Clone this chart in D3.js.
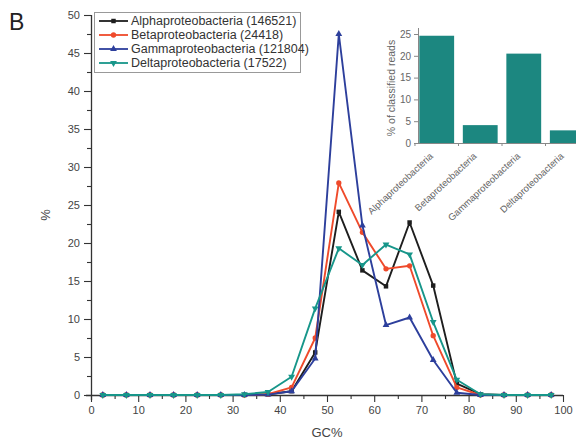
<!DOCTYPE html>
<html>
<head>
<meta charset="utf-8">
<script src="https://cdn.jsdelivr.net/npm/d3@7"></script>
<style>
	body { margin: 0; background: #fff; }
	svg { font-family: "Liberation Sans", Arial, sans-serif; }
</style>
</head>
<body>
<svg id="vis" width="576" height="445"></svg>
<script>
// GC content bins (centres) and percent of reads per class
const gcBins = [2.5, 7.5, 12.5, 17.5, 22.5, 27.5, 32.5, 37.5, 42.5, 47.5, 52.5, 57.5, 62.5, 67.5, 72.5, 77.5, 82.5, 87.5, 92.5, 97.5];
const alphaVals = [0, 0, 0, 0, 0, 0, 0, 0.1, 0.5, 5.6, 24.1, 16.4, 14.3, 22.7, 14.4, 1.5, 0.1, 0, 0, 0];
const betaVals  = [0, 0, 0, 0, 0, 0, 0, 0.1, 1.0, 7.5, 27.9, 21.4, 16.6, 17.0, 7.8, 1.0, 0, 0, 0, 0];
const gammaVals = [0, 0, 0, 0, 0, 0, 0, 0.05, 0.5, 4.8, 47.5, 22.3, 9.2, 10.2, 4.6, 0.3, 0, 0, 0, 0];
const deltaVals = [0, 0, 0, 0, 0, 0, 0.1, 0.4, 2.4, 11.4, 19.3, 17.1, 19.8, 18.5, 9.6, 2.0, 0.1, 0, 0, 0];

const seriesNames = ["Alphaproteobacteria (146521)", "Betaproteobacteria (24418)", "Gammaproteobacteria (121804)", "Deltaproteobacteria (17522)"];
const xTicks = [0, 10, 20, 30, 40, 50, 60, 70, 80, 90, 100];
const yTicks = [0, 5, 10, 15, 20, 25, 30, 35, 40, 45, 50];

// inset: share of classified reads
const insetClasses = ["Alphaproteobacteria", "Betaproteobacteria", "Gammaproteobacteria", "Deltaproteobacteria"];
const insetVals = [24.6, 4.1, 20.5, 2.9];
const insetTicks = [0, 5, 10, 15, 20, 25];

const svg = d3.select("svg#vis");

const x = d3.scaleLinear().domain([0, 100]).range([91, 563]);
const y = d3.scaleLinear().domain([0, 50]).range([395, 15]);

const series = [
	{ name: seriesNames[0], vals: alphaVals, color: "#1e1e1e", symbol: d3.symbolSquare, size: 20, rot: 0 },
	{ name: seriesNames[1], vals: betaVals,  color: "#ef4a2b", symbol: d3.symbolCircle, size: 22, rot: 0 },
	{ name: seriesNames[2], vals: gammaVals, color: "#2d3f9c", symbol: d3.symbolTriangle, size: 20, rot: 0 },
	{ name: seriesNames[3], vals: deltaVals, color: "#17968a", symbol: d3.symbolTriangle, size: 20, rot: 180 }
];

// axes
const axisColor = "#333";
const xAxis = svg.append("g").attr("transform", translate(0, y(0)))
	.call(d3.axisBottom(x).tickValues(xTicks).tickSize(7).tickPadding(4));
svg.append("g").attr("transform", translate(0, y(0)))
	.call(d3.axisBottom(x).tickValues(d3.range(5, 100, 10)).tickSize(4).tickFormat(""))
	.select(".domain").remove();
const yAxis = svg.append("g").attr("transform", translate(x(0), 0))
	.call(d3.axisLeft(y).tickValues(yTicks).tickSize(7).tickPadding(4));
svg.append("g").attr("transform", translate(x(0), 0))
	.call(d3.axisLeft(y).tickValues(d3.range(2.5, 50, 5)).tickSize(4).tickFormat(""))
	.select(".domain").remove();

svg.selectAll(".domain").attr("stroke", axisColor).attr("stroke-width", 1.3);
svg.selectAll(".tick line").attr("stroke", axisColor).attr("stroke-width", 1.1);
svg.selectAll(".tick text").attr("fill", "#444").style("font-size", "11px");
xAxis.select(".domain").attr("d", `M${x(0) - 5},0.5H${x(100)}`);
yAxis.select(".domain").attr("d", `M0.5,${y(0) + 5}V${y(50)}`);

// axis labels
svg.append("text").attr("x", x(50)).attr("y", 437).attr("text-anchor", "middle")
	.attr("fill", "#444").style("font-size", "13px").text("GC%");
svg.append("text").attr("transform", "translate(50,215) rotate(-90)").attr("text-anchor", "middle")
	.attr("fill", "#444").style("font-size", "13px").text("%");
svg.append("text").attr("x", 9).attr("y", 30).attr("fill", "#222").style("font-size", "23px").text("B");

// lines + markers
const line = d3.line().x((d, i) => x(gcBins[i])).y(d => y(d));
series.forEach(function(s) {
	const g = svg.append("g");
	g.append("path").datum(s.vals).attr("d", line)
		.attr("fill", "none").attr("stroke", s.color).attr("stroke-width", 1.9).attr("stroke-linejoin", "round");
	g.selectAll("path.pt").data(s.vals).enter().append("path").attr("class", "pt")
		.attr("d", d3.symbol().type(s.symbol).size(s.size))
		.attr("transform", (d, i) => translate(x(gcBins[i]), y(d)) + ` rotate(${s.rot})`)
		.attr("fill", s.color);
});

// legend
const legend = svg.append("g");
legend.append("rect").attr("x", 94.5).attr("y", 12.5).attr("width", 206).attr("height", 60)
	.attr("fill", "#fff").attr("stroke", "#999").attr("stroke-width", 1);
series.forEach(function(s, i) {
	const ly = 21 + i * 14;
	legend.append("line").attr("x1", 99).attr("x2", 128).attr("y1", ly).attr("y2", ly)
		.attr("stroke", s.color).attr("stroke-width", 1.8);
	legend.append("path").attr("d", d3.symbol().type(s.symbol).size(s.size)())
		.attr("transform", translate(113.5, ly) + ` rotate(${s.rot})`).attr("fill", s.color);
	legend.append("text").attr("x", 131).attr("y", ly + 4.3).attr("fill", "#333")
		.style("font-size", "12.5px").text(s.name);
});

// inset bar chart
const ix = d3.scaleBand().domain(insetClasses).range([418, 586]).paddingInner(0.2).paddingOuter(0.03);
const iy = d3.scaleLinear().domain([0, 25]).range([143, 34]);
const inset = svg.append("g");
inset.selectAll("rect").data(insetVals).enter().append("rect")
	.attr("x", (d, i) => ix(insetClasses[i]))
	.attr("y", d => iy(d))
	.attr("width", ix.bandwidth())
	.attr("height", d => iy(0) - iy(d))
	.attr("fill", "#1c8780");

const iyAxis = inset.append("g").attr("transform", translate(418, 0))
	.call(d3.axisLeft(iy).tickValues(insetTicks).tickSize(4).tickPadding(3));
iyAxis.select(".domain").attr("d", "M0.5,143V28");
const ixAxis = inset.append("g").attr("transform", translate(0, 143))
	.call(d3.axisBottom(ix).tickSize(3).tickPadding(4));
ixAxis.select(".domain").attr("d", "M418,0.5H576");
// ticks sit between the bars
ixAxis.selectAll(".tick line").attr("transform", `translate(${-ix.step() / 2},0)`);
inset.selectAll(".domain").attr("stroke", "#888").attr("stroke-width", 1);
inset.selectAll(".tick line").attr("stroke", "#888");
iyAxis.selectAll(".tick text").attr("fill", "#666").style("font-size", "10px");
ixAxis.selectAll(".tick text")
	.attr("fill", "#666").style("font-size", "9.5px")
	.attr("text-anchor", "end")
	.attr("x", 0).attr("y", 0).attr("dy", 0)
	.attr("transform", "translate(-3,14) rotate(-43)");
inset.append("text").attr("transform", "translate(395,88) rotate(-90)").attr("text-anchor", "middle")
	.attr("fill", "#666").style("font-size", "10.5px").text("% of classified reads");

function translate(a, b) {
	return "translate(" + a + "," + b + ")";
}
</script>
</body>
</html>
